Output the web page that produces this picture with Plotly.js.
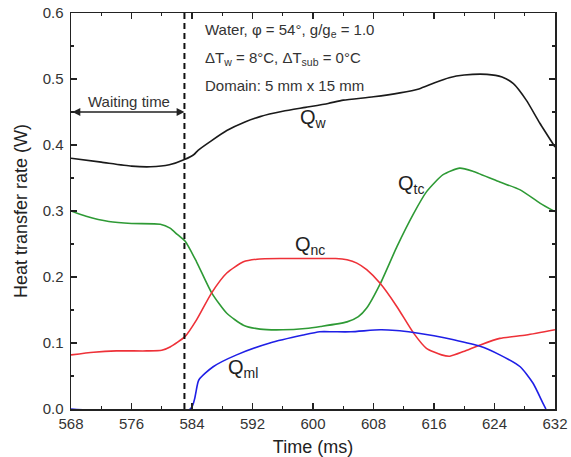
<!DOCTYPE html>
<html>
<head>
<meta charset="utf-8">
<script src="https://cdn.plot.ly/plotly-3.0.1.min.js"></script>
<style>
  html, body { margin: 0; padding: 0; background: #fff; }
  #chart { width: 571px; height: 457px; }
</style>
</head>
<body>
<div id="chart"></div>
<script>
// Wall heat transfer components during one bubble cycle (time in ms, rate in W)
const tW  = [568, 572, 576, 578.5, 581, 583, 584.3, 584.8, 586.5, 588.6, 591, 593, 596, 599, 602, 604, 608, 611.5, 614, 616, 618, 620, 623, 625, 626.5, 628.2, 630, 632];
const qW  = [0.380, 0.374, 0.368, 0.367, 0.370, 0.378, 0.386, 0.392, 0.406, 0.422, 0.435, 0.443, 0.451, 0.457, 0.463, 0.468, 0.473, 0.479, 0.485, 0.494, 0.502, 0.506, 0.507, 0.503, 0.493, 0.468, 0.433, 0.397];

const tTc = [568, 570, 573, 576, 579.8, 581.1, 582, 583.1, 584.6, 586.6, 588.6, 590.8, 593, 596, 599, 601, 604.5, 606, 607.1, 608.9, 611.1, 613.3, 615, 617.2, 619.4, 621.2, 624.7, 627.4, 630, 632];
const qTc = [0.300, 0.292, 0.284, 0.281, 0.280, 0.274, 0.265, 0.254, 0.223, 0.176, 0.145, 0.127, 0.121, 0.120, 0.122, 0.125, 0.132, 0.140, 0.153, 0.190, 0.246, 0.296, 0.329, 0.355, 0.365, 0.360, 0.344, 0.332, 0.312, 0.299];

const tNc = [568, 571, 574, 578, 580, 581.1, 583.1, 584.6, 586.6, 588.6, 590.8, 592.6, 596, 600, 603, 604.5, 605.8, 607.1, 608.9, 611.1, 613.3, 615, 617, 618.1, 619.9, 622.1, 624.7, 628.2, 632];
const qNc = [0.082, 0.086, 0.088, 0.088, 0.089, 0.094, 0.110, 0.135, 0.176, 0.206, 0.223, 0.227, 0.228, 0.228, 0.228, 0.226, 0.221, 0.211, 0.190, 0.155, 0.115, 0.092, 0.082, 0.080, 0.087, 0.097, 0.107, 0.112, 0.120];

const tMl = [568, 583.8, 584.9, 586.8, 589.9, 594.3, 598.7, 600.9, 602.7, 605, 608.9, 611, 613.3, 616, 618.6, 622.1, 624.7, 627.4, 629.1, 630.4, 630.8];
const qMl = [0, 0, 0.044, 0.064, 0.082, 0.100, 0.112, 0.117, 0.117, 0.117, 0.120, 0.119, 0.116, 0.111, 0.105, 0.095, 0.082, 0.064, 0.039, 0.009, 0];

const xTicks = [568, 576, 584, 592, 600, 608, 616, 624, 632];
const yTicks = [0.0, 0.1, 0.2, 0.3, 0.4, 0.5, 0.6];

// Waiting period before the new bubble nucleates
const waitStart = 568;
const waitEnd = 583;
const waitArrowY = 0.45;

const FONT = 'Liberation Sans, Arial, sans-serif';

function curve(x, y, color) {
  return {
    x: x, y: y, type: 'scatter', mode: 'lines',
    line: { color: color, width: 1.6, shape: 'spline', smoothing: 0.6 },
    hoverinfo: 'skip', showlegend: false
  };
}

const data = [
  curve(tW, qW, '#1a1a1a'),
  curve(tTc, qTc, '#2e9a35'),
  curve(tNc, qNc, '#ee3138'),
  curve(tMl, qMl, '#1f1fe6')
];

const axisCommon = {
  showgrid: false, zeroline: false,
  showline: true, linecolor: '#222', linewidth: 1.5,
  mirror: 'ticks', ticks: 'inside', ticklen: 6, tickwidth: 1.3, tickcolor: '#222',
  tickfont: { family: FONT, size: 15, color: '#333' }
};

const labelFont = { family: FONT, size: 15, color: '#333' };
const qFont = { family: FONT, size: 20, color: '#222' };

const layout = {
  width: 571, height: 457,
  margin: { l: 71, r: 16, t: 13, b: 48 },
  paper_bgcolor: '#fff', plot_bgcolor: '#fff',
  font: { family: FONT, color: '#222' },
  xaxis: Object.assign({}, axisCommon, {
    range: [568, 632], tickmode: 'array', tickvals: xTicks,
    ticktext: xTicks.map(String),
    minor: { dtick: 4, tick0: 568, ticks: 'inside', ticklen: 3, tickwidth: 1.2, tickcolor: '#222' },
    title: { text: 'Time (ms)', font: { family: FONT, size: 18, color: '#222' }, standoff: 11 }
  }),
  yaxis: Object.assign({}, axisCommon, {
    range: [0, 0.6], tickmode: 'array', tickvals: yTicks,
    ticktext: yTicks.map(v => v.toFixed(1)),
    ticklabelstandoff: 3,
    minor: { dtick: 0.05, tick0: 0, ticks: 'inside', ticklen: 3, tickwidth: 1.2, tickcolor: '#222' },
    title: { text: 'Heat transfer rate (W)', font: { family: FONT, size: 18, color: '#222' }, standoff: 10 }
  }),
  shapes: [
    { type: 'line', xref: 'x', yref: 'y', x0: waitEnd, x1: waitEnd, y0: 0, y1: 0.6,
      line: { color: '#111', width: 2, dash: '6px,4px' } }
  ],
  annotations: [
    // double-headed waiting-time arrow
    { xref: 'x', yref: 'y', axref: 'x', ayref: 'y',
      x: waitEnd, y: waitArrowY, ax: waitStart, ay: waitArrowY,
      text: '', showarrow: true, arrowside: 'end+start', arrowhead: 2, arrowsize: 1.2,
      arrowwidth: 1.3, arrowcolor: '#222', standoff: 0, startstandoff: 0 },
    { xref: 'x', yref: 'y', x: (waitStart + waitEnd) / 2 + 0.2, y: waitArrowY, yanchor: 'bottom', yshift: 0,
      text: 'Waiting time', showarrow: false, font: labelFont },
    // case description
    { xref: 'paper', yref: 'paper', x: 0.272, y: 0.955, xanchor: 'left', yanchor: 'middle',
      text: 'Water, φ = 54°, g/g<sub>e</sub> = 1.0', showarrow: false, font: labelFont },
    { xref: 'paper', yref: 'paper', x: 0.272, y: 0.884, xanchor: 'left', yanchor: 'middle',
      text: 'ΔT<sub>w</sub> = 8°C, ΔT<sub>sub</sub> = 0°C', showarrow: false, font: labelFont },
    { xref: 'paper', yref: 'paper', x: 0.272, y: 0.818, xanchor: 'left', yanchor: 'middle',
      text: 'Domain: 5 mm x 15 mm', showarrow: false, font: labelFont },
    // curve labels
    { xref: 'x', yref: 'y', x: 600, y: 0.44, text: 'Q<sub>w</sub>', showarrow: false, font: qFont },
    { xref: 'x', yref: 'y', x: 613.0, y: 0.34, text: 'Q<sub>tc</sub>', showarrow: false, font: qFont },
    { xref: 'x', yref: 'y', x: 599.6, y: 0.247, text: 'Q<sub>nc</sub>', showarrow: false, font: qFont },
    { xref: 'x', yref: 'y', x: 590.8, y: 0.062, text: 'Q<sub>ml</sub>', showarrow: false, font: qFont }
  ]
};

Plotly.newPlot('chart', data, layout, { staticPlot: true, displayModeBar: false });
</script>
</body>
</html>
